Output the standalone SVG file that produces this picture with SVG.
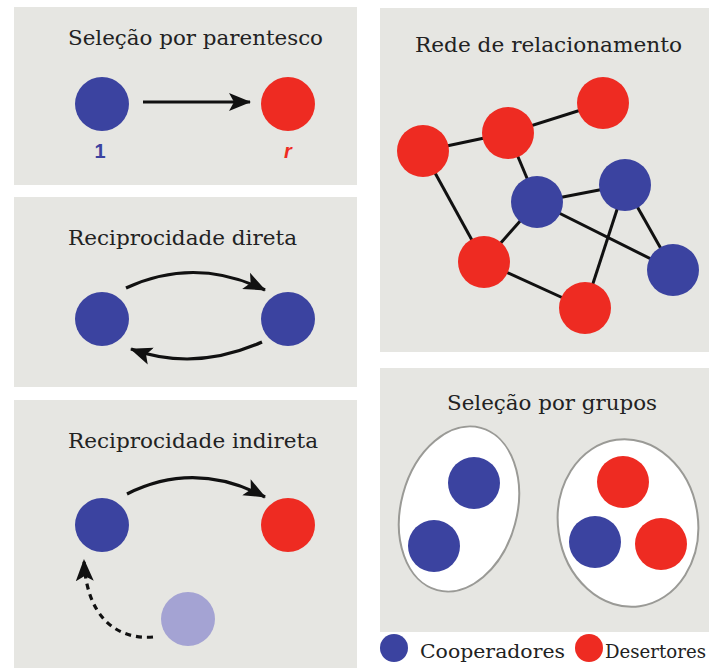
<svg xmlns="http://www.w3.org/2000/svg" width="711" height="668" viewBox="0 0 711 668">
<style>
.panel{fill:#e6e6e2}
.title{font-family:"DejaVu Serif","Liberation Serif",serif;font-size:21px;fill:#222}
.leg{font-family:"DejaVu Serif","Liberation Serif",serif;font-size:19px;fill:#222}
.blue{fill:#3b43a0}
.red{fill:#ee2b22}
.lilac{fill:#a4a3d3}
.edge{stroke:#111;stroke-width:3;fill:none}
.arrow{stroke:#111;stroke-width:3.2;fill:none}
.grp{fill:#fff;stroke:#9a9a96;stroke-width:2}
</style>
<defs>
<marker id="ah" markerUnits="userSpaceOnUse" markerWidth="24" markerHeight="20" refX="21" refY="10" orient="auto">
<path d="M0,1 L22,10 L0,19 L5,10 z" fill="#111"/>
</marker>
</defs>
<rect width="711" height="668" fill="#fff"/>
<g id="panels">
<rect class="panel" x="14" y="7" width="343" height="178"/>
<rect class="panel" x="14" y="197" width="343" height="190"/>
<rect class="panel" x="14" y="400" width="343" height="268"/>
<rect class="panel" x="380" y="8" width="329" height="344"/>
<rect class="panel" x="380" y="368" width="329" height="264"/>
</g>
<g id="titles">
<text class="title" x="68" y="45" textLength="255" lengthAdjust="spacingAndGlyphs">Seleção por parentesco</text>
<text class="title" x="68" y="245" textLength="229" lengthAdjust="spacingAndGlyphs">Reciprocidade direta</text>
<text class="title" x="68" y="448" textLength="250" lengthAdjust="spacingAndGlyphs">Reciprocidade indireta</text>
<text class="title" x="415" y="52" textLength="267" lengthAdjust="spacingAndGlyphs">Rede de relacionamento</text>
<text class="title" x="447" y="410" textLength="210" lengthAdjust="spacingAndGlyphs">Seleção por grupos</text>
</g>
<g id="connectors">
<path class="arrow" d="M143,102 L250,102" marker-end="url(#ah)"/>
<path class="arrow" d="M126,288 Q195,256 265,290" marker-end="url(#ah)"/>
<path class="arrow" d="M262,342 Q195,372 131,349" marker-end="url(#ah)"/>
<path class="arrow" d="M127,494 Q195,460 265,497" marker-end="url(#ah)"/>
<path class="arrow" d="M153,637 C115,640 86,615 84,560" stroke-dasharray="6,5" stroke-width="3.6" marker-end="url(#ah)"/>
<line class="edge" x1="423" y1="151" x2="508" y2="133"/>
<line class="edge" x1="508" y1="133" x2="603" y2="103"/>
<line class="edge" x1="508" y1="133" x2="537" y2="202"/>
<line class="edge" x1="423" y1="151" x2="484" y2="262"/>
<line class="edge" x1="537" y1="202" x2="484" y2="262"/>
<line class="edge" x1="537" y1="202" x2="625" y2="185"/>
<line class="edge" x1="537" y1="202" x2="673" y2="270"/>
<line class="edge" x1="625" y1="185" x2="673" y2="270"/>
<line class="edge" x1="625" y1="185" x2="585" y2="308"/>
<line class="edge" x1="484" y1="262" x2="585" y2="308"/>
</g>
<g id="kin">
<g id="kin-self"><circle class="blue" cx="102" cy="104" r="27"/><text x="100" y="158" text-anchor="middle" font-family="Liberation Sans,Arial,sans-serif" font-weight="bold" font-size="20" fill="#3b43a0">1</text></g>
<g id="kin-rel"><circle class="red" cx="288" cy="104" r="27"/><text x="288" y="158" text-anchor="middle" font-family="Liberation Sans,Arial,sans-serif" font-weight="bold" font-style="italic" font-size="20" fill="#ee2b22">r</text></g>
</g>
<g id="direct">
<g id="direct-a"><circle class="blue" cx="102" cy="319" r="27"/></g>
<g id="direct-b"><circle class="blue" cx="288" cy="319" r="27"/></g>
</g>
<g id="indirect">
<g id="indirect-a"><circle class="blue" cx="102" cy="525" r="27"/></g>
<g id="indirect-b"><circle class="red" cx="288" cy="525" r="27"/></g>
<g id="indirect-c"><circle class="lilac" cx="188" cy="619" r="27"/></g>
</g>
<g id="network">
<g id="n-r1"><circle class="red" cx="603" cy="103" r="26"/></g>
<g id="n-r2"><circle class="red" cx="508" cy="133" r="26"/></g>
<g id="n-r3"><circle class="red" cx="423" cy="151" r="26"/></g>
<g id="n-b1"><circle class="blue" cx="537" cy="202" r="26"/></g>
<g id="n-b2"><circle class="blue" cx="625" cy="185" r="26"/></g>
<g id="n-b3"><circle class="blue" cx="673" cy="270" r="26"/></g>
<g id="n-r4"><circle class="red" cx="484" cy="262" r="26"/></g>
<g id="n-r5"><circle class="red" cx="585" cy="308" r="26"/></g>
</g>
<g id="groups">
<g id="group-1">
<ellipse class="grp" cx="459" cy="509" rx="58" ry="84" transform="rotate(15 459 509)"/>
<circle class="blue" cx="474" cy="483" r="26"/>
<circle class="blue" cx="434" cy="546" r="26"/>
</g>
<g id="group-2">
<ellipse class="grp" cx="628" cy="523" rx="70" ry="84" transform="rotate(-8 628 523)"/>
<circle class="red" cx="623" cy="482" r="26"/>
<circle class="blue" cx="595" cy="542" r="26"/>
<circle class="red" cx="661" cy="544" r="26"/>
</g>
</g>
<g id="legend">
<circle class="blue" cx="394" cy="648" r="14"/>
<text class="leg" x="420" y="658" textLength="145" lengthAdjust="spacingAndGlyphs">Cooperadores</text>
<circle class="red" cx="589" cy="648" r="14"/>
<text class="leg" x="605" y="658" textLength="101" lengthAdjust="spacingAndGlyphs">Desertores</text>
</g>
</svg>
